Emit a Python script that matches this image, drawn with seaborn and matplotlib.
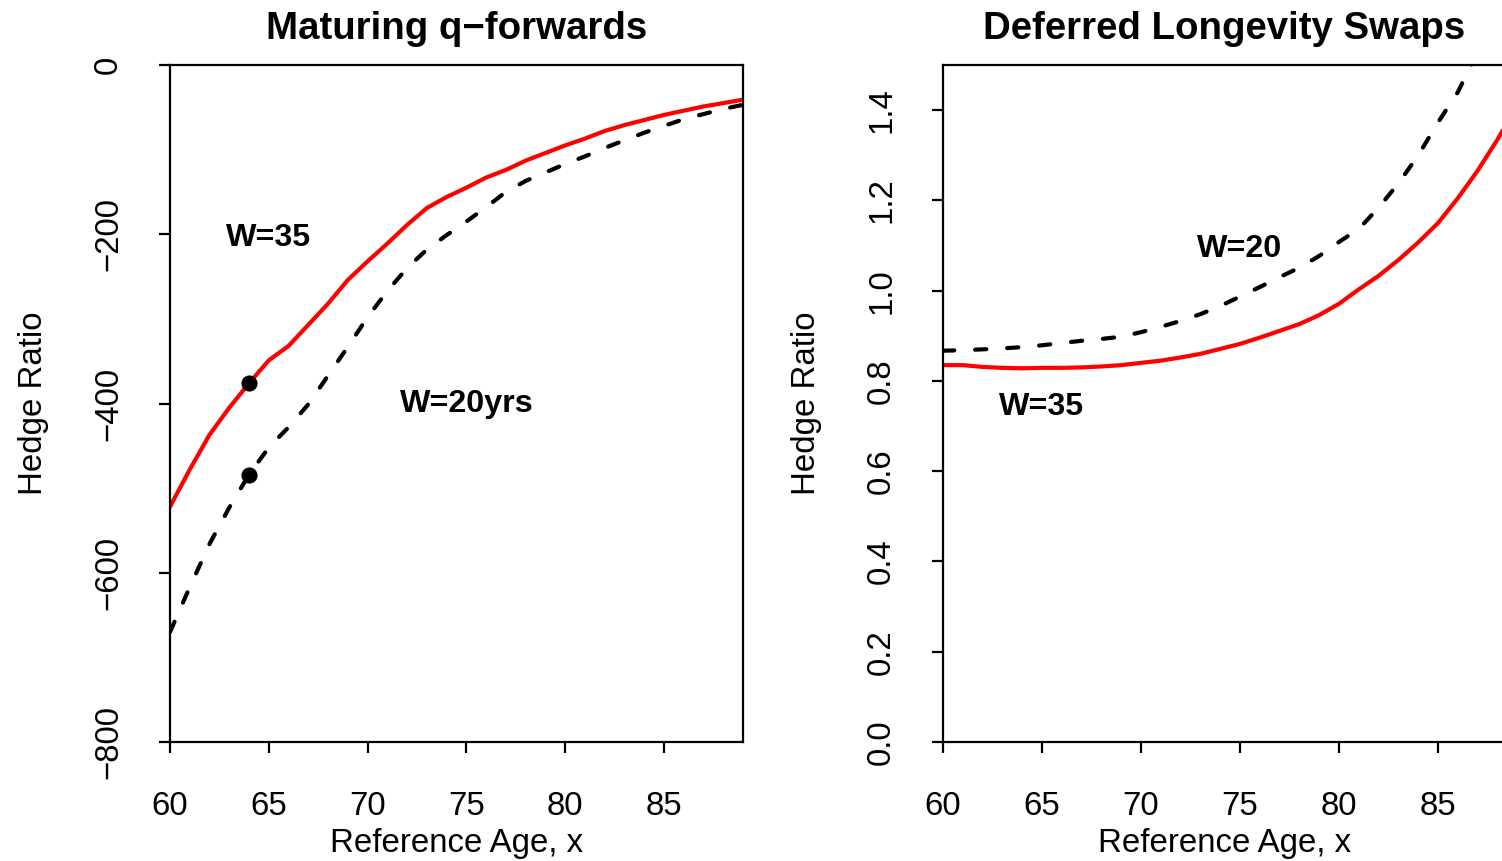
import numpy as np
import pandas as pd
import matplotlib
matplotlib.use("Agg")
import matplotlib.pyplot as plt
import seaborn as sns

# Reference ages
ages = list(range(60, 90))

# Maturing q-forwards hedge ratios
qf_w35 = [-522, -478, -437, -405, -376, -349, -332, -307, -282, -254,
          -232, -211, -189, -169, -156, -145, -133, -124, -113, -104,
          -95, -87, -78, -71, -65, -59, -54, -49, -45, -41]
qf_w20 = [-670, -617, -566, -523, -484, -452, -428, -401, -367, -333,
          -298, -267, -240, -218, -201, -185, -168, -150, -137, -127,
          -117, -108, -98, -89, -80, -72, -64, -58, -52, -47]

# Deferred longevity swap hedge ratios
ls_w35 = [0.835, 0.835, 0.831, 0.829, 0.828, 0.829, 0.829, 0.830, 0.832, 0.835,
          0.840, 0.845, 0.852, 0.860, 0.871, 0.882, 0.896, 0.911, 0.926, 0.946,
          0.971, 1.003, 1.033, 1.068, 1.107, 1.150, 1.205, 1.266, 1.335, 1.41]
ls_w20 = [0.867, 0.868, 0.870, 0.872, 0.875, 0.879, 0.884, 0.889, 0.893, 0.898,
          0.908, 0.920, 0.933, 0.948, 0.966, 0.987, 1.008, 1.030, 1.051, 1.077,
          1.108, 1.137, 1.184, 1.238, 1.300, 1.373, 1.44, 1.53, 1.63, 1.74]

marked_age = 64

sns.set_style("ticks")
plt.rcParams['font.family'] = ['Liberation Sans', 'DejaVu Sans']
for key in ['text.color', 'axes.labelcolor', 'xtick.color', 'ytick.color', 'axes.edgecolor']:
    plt.rcParams[key] = 'black'

fig = plt.figure(figsize=(15.02, 8.61), dpi=100)
ax1 = fig.add_axes([170 / 1502, 119 / 861, 573 / 1502, 677 / 861])
ax2 = fig.add_axes([943 / 1502, 119 / 861, 563 / 1502, 677 / 861])

lw = 3.0
dash = (0, (2.7, 5.0))
dash_kw = dict(linestyle=dash, dash_capstyle='round')

# left panel
sns.lineplot(x=ages, y=qf_w35, ax=ax1, color='red', lw=lw, estimator=None)
sns.lineplot(x=ages, y=qf_w20, ax=ax1, color='black', lw=lw, estimator=None, **dash_kw)
i = ages.index(marked_age)
sns.scatterplot(x=[marked_age, marked_age], y=[qf_w35[i], qf_w20[i]], ax=ax1,
                color='black', s=135, linewidth=0, zorder=5)
ax1.set_xlim(60, 89)
ax1.set_ylim(-800, 0)
ax1.set_xticks([60, 65, 70, 75, 80, 85])
ax1.set_yticks([0, -200, -400, -600, -800])
ax1.text(65, -200, "W=35", fontsize=23.2, fontweight='bold', ha='center', va='center_baseline')
ax1.text(75, -397, "W=20yrs", fontsize=23.2, fontweight='bold', ha='center', va='center_baseline')
ax1.set_title("Maturing q\u2212forwards", fontsize=27.6, fontweight='bold', pad=18.5)

# right panel
sns.lineplot(x=ages, y=ls_w35, ax=ax2, color='red', lw=lw, estimator=None)
sns.lineplot(x=ages, y=ls_w20, ax=ax2, color='black', lw=lw, estimator=None, **dash_kw)
ax2.set_xlim(60, 88.43)
ax2.set_ylim(0, 1.5)
ax2.set_xticks([60, 65, 70, 75, 80, 85])
ax2.set_yticks([0.0, 0.2, 0.4, 0.6, 0.8, 1.0, 1.2, 1.4])
ax2.set_yticklabels([f"{v:.1f}" for v in ax2.get_yticks()])
ax2.text(75, 1.1, "W=20", fontsize=23.2, fontweight='bold', ha='center', va='center_baseline')
ax2.text(65, 0.75, "W=35", fontsize=23.2, fontweight='bold', ha='center', va='center_baseline')
ax2.set_title("Deferred Longevity Swaps", fontsize=27.6, fontweight='bold', pad=18.5)

for ax in (ax1, ax2):
    for s in ax.spines.values():
        s.set_visible(True)
        s.set_linewidth(1.6)
        s.set_color('black')
    ax.tick_params(axis='x', length=8, width=1.6, labelsize=23.8, pad=27.5)
    ax.tick_params(axis='y', length=8, width=1.6, labelsize=23.8, pad=25, labelrotation=90)
    for t in ax.get_yticklabels():
        t.set_va('center')
    ax.set_xlabel("Reference Age, x", fontsize=23.8)
    ax.xaxis.set_label_coords(0.5, -0.163)
    ax.xaxis.label.set_va('baseline')
    ax.set_ylabel("Hedge Ratio", fontsize=23.8)
    ax.yaxis.set_label_coords(-0.211 * 573 / (ax.get_position().width * 1502), 0.5)

fig.savefig("out.png", dpi=100)
